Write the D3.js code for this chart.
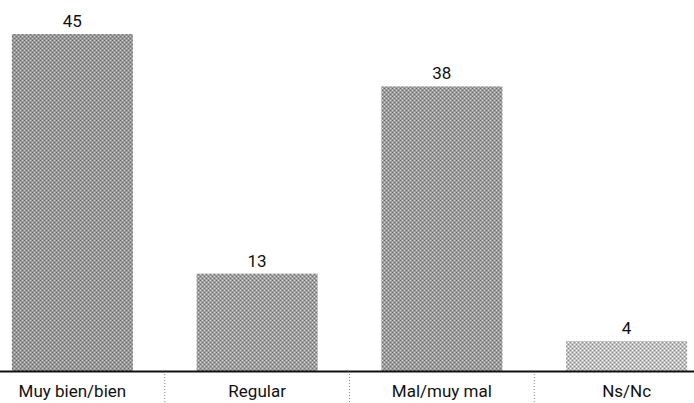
<!DOCTYPE html>
<html><head><meta charset="utf-8">
<script src="https://cdn.jsdelivr.net/npm/d3@7"></script>
<style>
html,body{margin:0;padding:0;background:#fff;}
svg{display:block;}
text{font-family:"Roboto","Liberation Sans",sans-serif;fill:#111;}
</style></head>
<body>
<svg id="chart" width="694" height="403"></svg>
<script>
const categories = ["Muy bien/bien", "Regular", "Mal/muy mal", "Ns/Nc"];
const values = [45, 13, 38, 4];
const barColors = ["#979797", "#9e9e9e", "#9b9b9b", "#c0c0c0"];

const W = 694, H = 403;
const baseY = 371, topY = 34;
const svg = d3.select("#chart");

// texture pattern to mimic the scanned halftone
const defs = svg.append("defs");
barColors.forEach((c, i) => {
  const p = defs.append("pattern").attr("id", "tex" + i)
    .attr("patternUnits", "userSpaceOnUse").attr("width", 4).attr("height", 4);
  p.append("rect").attr("width", 4).attr("height", 4).attr("fill", c);
  const d = d3.color(c).darker(0.9).formatHex();
  const l = d3.color(c).brighter(0.9).formatHex();
  p.append("rect").attr("x", 0).attr("y", 0).attr("width", 1).attr("height", 1).attr("fill", d);
  p.append("rect").attr("x", 2).attr("y", 2).attr("width", 1).attr("height", 1).attr("fill", d);
  p.append("rect").attr("x", 2).attr("y", 0).attr("width", 1).attr("height", 1).attr("fill", l);
  p.append("rect").attr("x", 0).attr("y", 2).attr("width", 1).attr("height", 1).attr("fill", l);
});

const x = d3.scaleBand().domain(categories).range([-20, 719]).paddingInner(0.345).paddingOuter(0.1725);
const y = d3.scaleLinear().domain([0, 45]).range([baseY, topY]);

svg.selectAll("rect.bar").data(values).join("rect").attr("class", "bar")
  .attr("x", (d, i) => x(categories[i]))
  .attr("y", d => y(d))
  .attr("width", x.bandwidth())
  .attr("height", d => baseY - y(d))
  .attr("fill", (d, i) => "url(#tex" + i + ")");

svg.selectAll("text.val").data(values).join("text").attr("class", "val")
  .attr("x", (d, i) => x(categories[i]) + x.bandwidth() / 2)
  .attr("y", d => y(d) - 7)
  .attr("text-anchor", "middle")
  .style("font-size", "17px")
  .text(d => d);

// baseline
svg.append("line").attr("x1", 0).attr("x2", W).attr("y1", baseY + 0.5).attr("y2", baseY + 0.5)
  .attr("stroke", "#111").attr("stroke-width", 2);

// category labels
svg.selectAll("text.cat").data(categories).join("text").attr("class", "cat")
  .attr("x", d => x(d) + x.bandwidth() / 2)
  .attr("y", 397)
  .attr("text-anchor", "middle")
  .style("font-size", "17px")
  .text(d => d);

// dotted separators between categories
const step = x.step();
svg.selectAll("line.sep").data(categories.slice(1)).join("line").attr("class", "sep")
  .attr("x1", d => x(d) - (step - x.bandwidth()) / 2)
  .attr("x2", d => x(d) - (step - x.bandwidth()) / 2)
  .attr("y1", 374).attr("y2", 403)
  .attr("stroke", "#888").attr("stroke-width", 1).attr("stroke-dasharray", "1,2");
</script>
</body></html>
